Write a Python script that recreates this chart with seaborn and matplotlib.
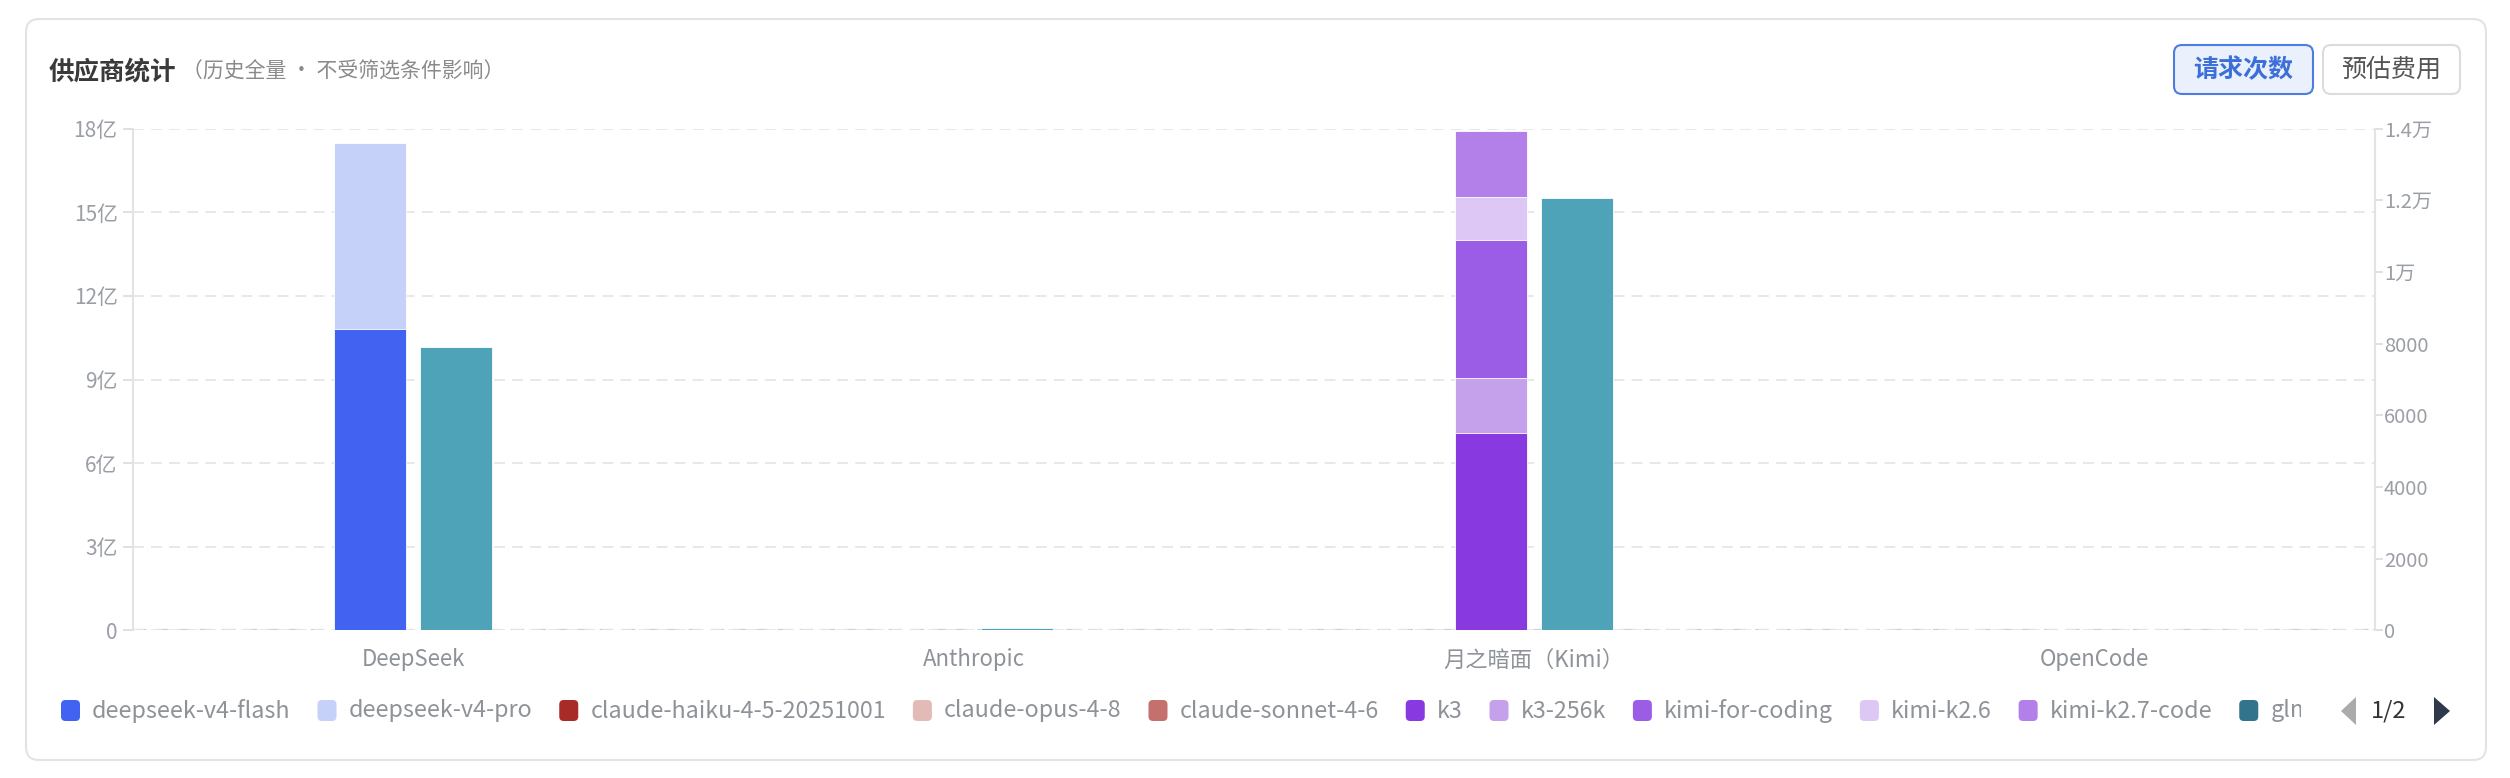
import numpy as np
import pandas as pd
import seaborn as sns
import matplotlib.pyplot as plt
from matplotlib.patches import FancyBboxPatch, Polygon
from matplotlib.ticker import FuncFormatter, MultipleLocator
from matplotlib.transforms import Bbox

# ---- data (tokens in 亿, requests in counts) ----
providers = ['DeepSeek', 'Anthropic', '月之暗面（Kimi）', 'OpenCode']
models = ['deepseek-v4-flash', 'deepseek-v4-pro', 'claude-haiku-4-5-20251001', 'claude-opus-4-8',
          'claude-sonnet-4-6', 'k3', 'k3-256k', 'kimi-for-coding', 'kimi-k2.6', 'kimi-k2.7-code', 'glm']
model_provider = ['DeepSeek', 'DeepSeek', 'Anthropic', 'Anthropic', 'Anthropic',
                  '月之暗面（Kimi）', '月之暗面（Kimi）', '月之暗面（Kimi）', '月之暗面（Kimi）', '月之暗面（Kimi）',
                  'OpenCode']
model_tokens_yi = [10.80, 6.70, 0.002, 0.02, 0.008, 7.08, 1.96, 4.96, 1.54, 2.38, 0.0]
model_colors = ['#4263F2', '#C6D1FA', '#A92B28', '#E2BAB6', '#C4706C', '#8839DF',
                '#C5A1EC', '#9B5DE5', '#DCC7F5', '#B380EA', '#32748C']
provider_requests = [7920, 60, 12060, 0]
request_color = '#4FA3B8'

W, H = 2510, 778


def main():
	sns.set_theme(style='white')
	plt.rcParams['font.family'] = ['Noto Sans CJK SC', 'DejaVu Sans']

	df = pd.DataFrame({'model': models, 'provider': model_provider,
	                   'tokens': np.array(model_tokens_yi) * 1e8})
	df['cum'] = df.groupby('provider')['tokens'].cumsum()
	df['side'] = 'tokens'
	req = pd.DataFrame({'provider': providers, 'requests': provider_requests, 'side': 'requests'})

	fig = plt.figure(figsize=(W / 100, H / 100), dpi=100)
	ax = fig.add_axes([133 / W, 1 - 630.4 / H, 2242 / W, (630.4 - 128.6) / H])
	ax2 = ax.twinx()

	def px(x, y):
		return (x / 100, (H - y) / 100)

	# card + header
	x0, y0 = px(26, 760)
	card = FancyBboxPatch((x0, y0), (2486 - 26) / 100, (760 - 19) / 100,
	                      boxstyle='round,pad=0,rounding_size=0.13', transform=fig.dpi_scale_trans,
	                      fc='white', ec='#E3E3E3', lw=1.5, zorder=-10)
	fig.patches.append(card)
	fig.text(*px(49, 72), '供应商统计', transform=fig.dpi_scale_trans, fontsize=18.4,
	         fontweight='bold', color='#3A3A3A', va='center')
	fig.text(*px(182, 72), '（历史全量 · 不受筛选条件影响）', transform=fig.dpi_scale_trans,
	         fontsize=15, color='#8A8A8A', va='center')

	for (bx0, bx1, label, fc, ec, tc, fw) in [
		(2174, 2313, '请求次数', '#EAF1FD', '#4D7CE3', '#3D6FD9', 'bold'),
		(2323, 2460, '预估费用', 'white', '#DCDCDC', '#555555', 'normal')]:
		bx, by = px(bx0, 94)
		fig.patches.append(FancyBboxPatch((bx, by), (bx1 - bx0) / 100, 0.49,
		                                  boxstyle='round,pad=0,rounding_size=0.08',
		                                  transform=fig.dpi_scale_trans, fc=fc, ec=ec, lw=1.5))
		fig.text(*px((bx0 + bx1) / 2, 70), label, transform=fig.dpi_scale_trans, fontsize=18,
		         fontweight=fw, color=tc, ha='center', va='center')

	# stacked token bars (draw cumulative tops, top layer first)
	bar_kw = dict(order=providers, hue='side', hue_order=['tokens', 'requests'], dodge=True,
	              width=0.307, gap=0.16, saturation=1, legend=False, errorbar=None,
	              edgecolor='white', linewidth=0.6)
	for i in reversed(range(len(models))):
		sub = df.iloc[[i]]
		sns.barplot(data=sub, x='provider', y='cum', ax=ax,
		            palette={'tokens': model_colors[i], 'requests': request_color}, **bar_kw)
	sns.barplot(data=req, x='provider', y='requests', ax=ax2,
	            palette={'tokens': model_colors[0], 'requests': request_color}, **bar_kw)

	ax.set_xlim(-0.5, len(providers) - 0.5)
	ax.set_ylim(0, 18e8)
	ax2.set_ylim(0, 14000)
	ax.yaxis.set_major_locator(MultipleLocator(3e8))
	ax2.yaxis.set_major_locator(MultipleLocator(2000))
	ax.yaxis.set_major_formatter(FuncFormatter(lambda v, p: '0' if v == 0 else f'{v / 1e8:g}亿'))
	ax2.yaxis.set_major_formatter(FuncFormatter(
		lambda v, p: f'{v / 1e4:g}万' if v >= 1e4 else f'{v:.0f}'))
	for a in (ax, ax2):
		a.set_xlabel('')
		a.set_ylabel('')
		for s in a.spines.values():
			s.set_visible(False)
	ax.spines['left'].set_visible(True)
	ax.spines['left'].set_color('#E3E3E3')
	ax.spines['left'].set_linewidth(1.5)
	ax2.spines['right'].set_visible(True)
	ax2.spines['right'].set_color('#E3E3E3')
	ax2.spines['right'].set_linewidth(1.5)

	ax.set_axisbelow(True)
	ax.grid(axis='y', linestyle=(0, (6, 4)), color='#E6E6E6', lw=1.3)
	ax.grid(axis='x', visible=False)
	ax2.grid(False)
	ax.axhline(0, linestyle=(0, (6, 4)), color='#CFCFCF', lw=1.6, zorder=0.5)

	ax.tick_params(axis='y', length=7, width=1.2, color='#DADADA', labelcolor='#9A9EA5',
	               labelsize=15, pad=4, left=True)
	ax2.tick_params(axis='y', length=6, width=1.2, color='#DADADA', labelcolor='#9A9EA5',
	                labelsize=14.5, pad=0.5, right=True)
	ax.tick_params(axis='x', length=0, labelsize=16, labelcolor='#8E9299', pad=13)
	ax2.tick_params(axis='x', length=0)

	# legend row
	fig.canvas.draw()
	renderer = fig.canvas.get_renderer()
	lx = 61
	ly = 711
	for m, c in zip(models, model_colors):
		mx, my = px(lx, ly + 10)
		fig.patches.append(FancyBboxPatch((mx, my), 0.19, 0.21,
		                                  boxstyle='round,pad=0,rounding_size=0.045',
		                                  transform=fig.dpi_scale_trans, fc=c, ec='none'))
		t = fig.text(*px(lx + 31, ly), m, transform=fig.dpi_scale_trans, fontsize=16.8,
		             color='#8E9299', va='center')
		if m == 'glm':
			t.set_clip_box(Bbox([[0, 0], [2301, H]]))
			t.set_clip_on(True)
		tw = t.get_window_extent(renderer).width
		lx = lx + 31 + tw + 27

	fig.patches.append(Polygon([px(2356, 697), px(2356, 725), px(2341, 711)], closed=True,
	                           transform=fig.dpi_scale_trans, fc='#ABABAB', ec='none'))
	fig.text(*px(2389, 711), '1/2', transform=fig.dpi_scale_trans, fontsize=17,
	         color='#333333', ha='center', va='center')
	fig.patches.append(Polygon([px(2434, 697), px(2434, 725), px(2450, 711)], closed=True,
	                           transform=fig.dpi_scale_trans, fc='#2E3A4B', ec='none'))

	fig.savefig('out.png', dpi=100)


if __name__ == '__main__':
	main()
